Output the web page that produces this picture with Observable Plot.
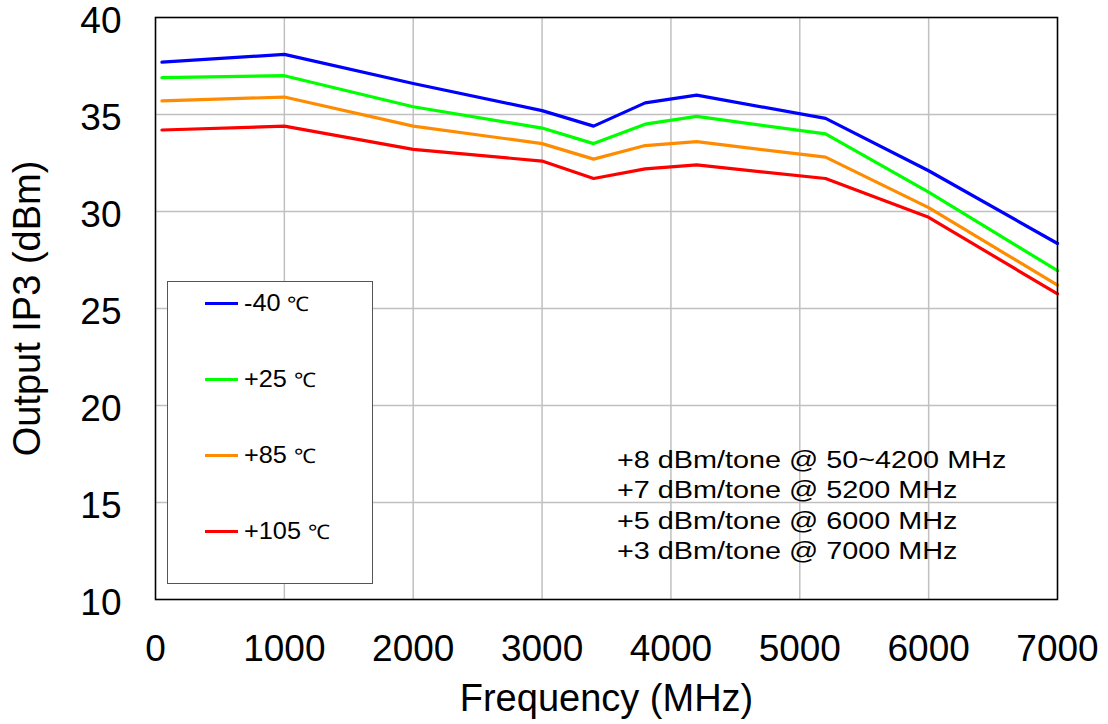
<!DOCTYPE html>
<html>
<head>
<meta charset="utf-8">
<script src="https://cdn.jsdelivr.net/npm/d3@7"></script>
<script src="https://cdn.jsdelivr.net/npm/@observablehq/plot@0.6"></script>
<style>
  body { margin: 0; background: #fff; font-family: "Liberation Sans", Arial, sans-serif; }
  #wrap { position: relative; width: 1108px; height: 724px; }
  #legend { position: absolute; left: 167px; top: 281px; width: 206px; height: 303px; border: 1.5px solid #555; box-sizing: border-box; background: #fff; }
  .li { position: absolute; left: 37px; font-size: 23px; color: #000; display: flex; align-items: center; white-space: nowrap; }
  .li .sw { width: 33px; height: 3px; margin-right: 6px; }
  .li .txt { display: inline-block; transform: scaleX(1.1); transform-origin: left center; }
  .li .deg { font-size: 20px; margin-left: 6px; }
  #note { position: absolute; left: 617px; top: 445px; font-size: 23.5px; line-height: 30.3px; color: #000; transform: scaleX(1.225); transform-origin: left top; white-space: nowrap; }
</style>
</head>
<body>
<div id="wrap">
  <div id="chart"></div>
  <div id="legend"></div>
  <div id="note"></div>
</div>
<script>
const freq = [50, 1000, 2000, 3000, 3400, 3800, 4200, 5200, 6000, 7000];
const seriesNames = ["-40", "+25", "+85", "+105"];
const seriesColors = ["#0000ff", "#00ff00", "#ff8c00", "#ff0000"];
const m40  = [37.7, 38.1, 36.6, 35.2, 34.4, 35.6, 36.0, 34.8, 32.1, 28.35];
const p25  = [36.9, 37.0, 35.4, 34.3, 33.5, 34.5, 34.9, 34.0, 31.0, 26.95];
const p85  = [35.7, 35.9, 34.4, 33.5, 32.7, 33.4, 33.6, 32.8, 30.2, 26.2];
const p105 = [34.2, 34.4, 33.2, 32.6, 31.7, 32.2, 32.4, 31.7, 29.7, 25.75];
const xTicks = [0, 1000, 2000, 3000, 4000, 5000, 6000, 7000];
const yTicks = [10, 15, 20, 25, 30, 35, 40];
const noteLines = ["+8 dBm/tone @ 50~4200 MHz", "+7 dBm/tone @ 5200 MHz", "+5 dBm/tone @ 6000 MHz", "+3 dBm/tone @ 7000 MHz"];

const allSeries = [m40, p25, p85, p105];
const data = [];
allSeries.forEach((vals, si) => vals.forEach((v, i) => data.push({f: freq[i], v, s: seriesNames[si]})));

const chart = Plot.plot({
  width: 1108,
  height: 724,
  marginLeft: 155,
  marginRight: 51,
  marginTop: 17,
  marginBottom: 125,
  style: { fontFamily: "'Liberation Sans', Arial, sans-serif", fontSize: "37px", color: "#000", background: "#fff", overflow: "visible" },
  x: { domain: [0, 7000] },
  y: { domain: [10, 40] },
  color: { domain: seriesNames, range: seriesColors },
  marks: [
    Plot.gridX(xTicks, { stroke: "#c0c0c0", strokeOpacity: 1, strokeWidth: 1.5 }),
    Plot.gridY(yTicks, { stroke: "#c0c0c0", strokeOpacity: 1, strokeWidth: 1.5 }),
    Plot.axisX(xTicks, { tickSize: 0, tickPadding: 35, fontSize: 37, tickFormat: d => String(d), label: "Frequency (MHz)", labelAnchor: "center", labelOffset: 111, labelArrow: "none" }),
    Plot.axisY(yTicks, { tickSize: 0, tickPadding: 34, fontSize: 37, dy: 4, tickFormat: d => String(d), label: "Output IP3 (dBm)", labelAnchor: "center", labelOffset: 142, labelArrow: "none" }),
    Plot.line(data, { x: "f", y: "v", z: "s", stroke: "s", strokeWidth: 3.2 }),
    Plot.frame({ stroke: "#000", strokeWidth: 1.5 })
  ]
});
chart.querySelectorAll("g[aria-label='x-axis label'] text, g[aria-label='y-axis label'] text").forEach(t => t.setAttribute("font-size", "38"));
document.getElementById("chart").appendChild(chart);

const legend = document.getElementById("legend");
seriesNames.forEach((n, i) => {
  const d = document.createElement("div");
  d.className = "li";
  d.style.top = (8 + i * 76) + "px";
  d.innerHTML = `<span class="sw" style="background:${seriesColors[i]}"></span><span class="txt">${n}<span class="deg">℃</span></span>`;
  legend.appendChild(d);
});
document.getElementById("note").innerHTML = noteLines.map(l => `<div>${l}</div>`).join("");
</script>
</body>
</html>
